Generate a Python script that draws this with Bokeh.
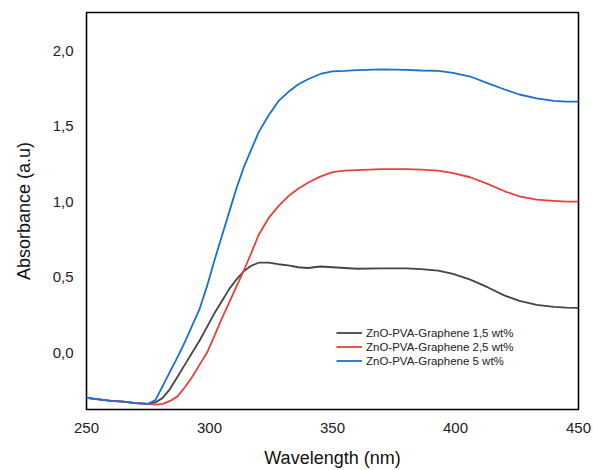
from bokeh.plotting import figure
from bokeh.models import Range1d, FixedTicker, CustomJSTickFormatter, Legend, LegendItem
from bokeh.embed import file_html
from bokeh.resources import INLINE

wavelength = [250, 255, 260, 265, 270, 275,
              278, 281, 284, 287, 290, 293, 296, 299, 302, 305, 308, 311, 314, 317, 320,
              324, 328, 332, 336, 340, 345, 350, 355, 360,
              370, 380, 386, 393, 399, 406, 413, 420, 426, 433, 440, 445, 450]

abs_15 = [-0.30, -0.31, -0.32, -0.325, -0.335, -0.34,
          -0.33, -0.30, -0.24, -0.16, -0.08, 0.00, 0.08, 0.17, 0.26, 0.34, 0.42, 0.485, 0.54, 0.575, 0.595,
          0.595, 0.585, 0.578, 0.565, 0.56, 0.57, 0.565, 0.56, 0.555,
          0.558, 0.558, 0.552, 0.543, 0.521, 0.483, 0.433, 0.377, 0.342, 0.316, 0.302, 0.298, 0.296]

abs_25 = [-0.30, -0.31, -0.32, -0.325, -0.335, -0.34,
          -0.345, -0.34, -0.32, -0.29, -0.23, -0.16, -0.08, 0.0, 0.11, 0.225, 0.33, 0.44, 0.545, 0.66, 0.78,
          0.89, 0.97, 1.035, 1.085, 1.125, 1.165, 1.195, 1.205, 1.208,
          1.215, 1.215, 1.212, 1.205, 1.188, 1.161, 1.117, 1.068, 1.035, 1.013, 1.005, 1.0, 1.0]

abs_5 = [-0.30, -0.31, -0.32, -0.325, -0.335, -0.34,
         -0.315, -0.22, -0.125, -0.03, 0.07, 0.18, 0.29, 0.44, 0.61, 0.77, 0.93, 1.09, 1.23, 1.345, 1.46,
         1.57, 1.665, 1.725, 1.775, 1.81, 1.845, 1.862, 1.865, 1.87,
         1.875, 1.872, 1.868, 1.866, 1.852, 1.828, 1.784, 1.742, 1.709, 1.684, 1.667, 1.662, 1.662]

labels = ["ZnO-PVA-Graphene 1,5 wt%", "ZnO-PVA-Graphene 2,5 wt%", "ZnO-PVA-Graphene 5 wt%"]
colors = ["#454545", "#e8413c", "#1a6fd4"]

x_ticks = [250, 300, 350, 400, 450]
y_ticks = [0.0, 0.5, 1.0, 1.5, 2.0]

FONT = "Liberation Sans"

p = figure(width=593, height=470, output_backend="svg", toolbar_location=None,
           x_range=Range1d(250, 450), y_range=Range1d(-0.377, 2.252),
           min_border_left=86, min_border_right=15, min_border_top=12, min_border_bottom=61)

renderers = []
for ys, c in zip([abs_15, abs_25, abs_5], colors):
    r = p.line(wavelength, ys, line_color=c, line_width=1.8, line_join="round")
    renderers.append(r)
items = [LegendItem(label=l, renderers=[r]) for l, r in zip(labels, renderers)]

legend = Legend(items=items, location=(250, 42), border_line_color=None,
                background_fill_alpha=0, label_text_font=FONT, label_text_font_size="11.5px",
                label_text_color="#222222", glyph_width=26, glyph_height=13, label_height=13,
                label_standoff=4, spacing=1, padding=2, margin=0)
p.add_layout(legend, "center")

p.xgrid.visible = False
p.ygrid.visible = False
p.outline_line_color = "black"
p.outline_line_width = 1.6
p.outline_line_alpha = 1

p.xaxis.ticker = FixedTicker(ticks=x_ticks)
p.yaxis.ticker = FixedTicker(ticks=y_ticks)
p.yaxis.formatter = CustomJSTickFormatter(code="return tick.toFixed(1).replace('.', ',');")

for ax in (p.xaxis, p.yaxis):
    ax.axis_line_color = None
    ax.major_tick_line_color = None
    ax.minor_tick_line_color = None
    ax.major_tick_out = 0
    ax.major_tick_in = 0
    ax.minor_tick_out = 0
    ax.major_label_text_font = FONT
    ax.major_label_text_font_size = "15px"
    ax.major_label_text_color = "#222222"
    ax.axis_label_text_font = FONT
    ax.axis_label_text_font_size = "18px"
    ax.axis_label_text_font_style = "normal"
    ax.axis_label_text_color = "#111111"

p.xaxis.axis_label = "Wavelength (nm)"
p.yaxis.axis_label = "Absorbance (a.u)"
p.xaxis.major_label_standoff = 13
p.yaxis.major_label_standoff = 13
p.xaxis.axis_label_standoff = 12
p.yaxis.axis_label_standoff = 16

open("out.html", "w").write(file_html(p, INLINE))
